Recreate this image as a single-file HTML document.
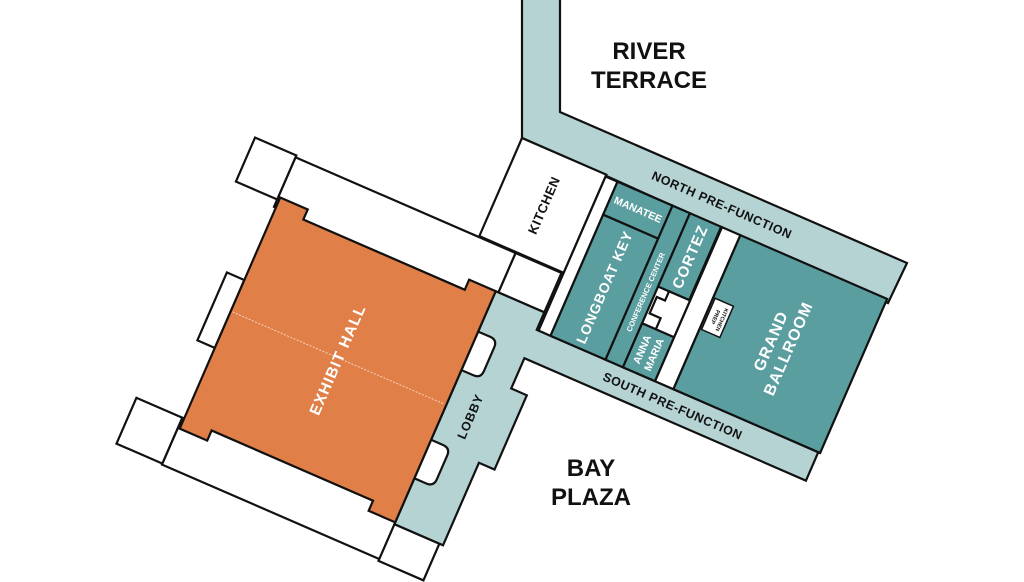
<!DOCTYPE html>
<html><head><meta charset="utf-8"><style>
html,body{margin:0;padding:0;background:#fff;width:1024px;height:582px;overflow:hidden;position:relative}
svg{display:block;position:absolute;left:0;top:0}
text{font-family:"Liberation Sans",sans-serif;font-weight:bold}
</style></head><body>
<svg width="1024" height="582" viewBox="0 0 1024 582" xmlns="http://www.w3.org/2000/svg">
<polygon points="522,-5 560,-5 560,112 907,263 888,303 522,138" fill="#b5d3d3" stroke="#111" stroke-width="2.2"/>
<g transform="translate(522,138) rotate(23.5)" stroke="#111" stroke-width="2.2" stroke-linejoin="miter">
  <rect x="0" y="0" width="92" height="107" fill="#fff"/>
  <rect x="-200" y="108" width="240" height="54" fill="#fff"/>
  <rect x="40" y="108" width="50" height="43" fill="#fff"/>
  <rect x="-245" y="106" width="45" height="48" fill="#fff"/>
  <rect x="-217" y="241" width="19" height="74" fill="#fff"/>
  <rect x="-200" y="392" width="238" height="51" fill="#fff"/>
  <rect x="-250" y="392" width="50" height="50" fill="#fff"/>
  <rect x="37" y="405" width="49" height="40" fill="#fff"/>
  <polygon points="37,151 90,151 90,170 397,170 397,201 90,201 90,234 107,234 107,315 90,315 90,405 37,405" fill="#b5d3d3"/>
  <path d="M37,195 H50 Q58,195 58,203 V229 Q58,237 50,237 H37 Z" fill="#fff"/>
  <path d="M37,313 H50 Q58,313 58,321 V347 Q58,355 50,355 H37 Z" fill="#fff"/>
  <rect x="92" y="2" width="13" height="168" fill="#fff"/>
  <rect x="105" y="2" width="60" height="36" fill="#5b9ea0"/>
  <rect x="105" y="38" width="60" height="132" fill="#5b9ea0"/>
  <rect x="165" y="2" width="19" height="168" fill="#5b9ea0"/>
  <rect x="184" y="2" width="34" height="80" fill="#5b9ea0"/>
  <rect x="184" y="122" width="35" height="48" fill="#5b9ea0"/>
  <polygon points="196,82 219,82 219,122 199,122 199,110 187,110 187,92 196,92" fill="#fff"/>
  <rect x="219" y="2" width="20" height="168" fill="#fff"/>
  <rect x="239" y="2" width="160" height="168" fill="#5b9ea0"/>
  <rect x="241" y="70" width="20" height="34" fill="#fff" stroke-width="1.5"/>
  <polygon points="-198,151 -168,151 -168,162 8,162 8,151 37,151 37,403 8,403 8,392 -168,392 -168,403 -198,403" fill="#e07f47"/>
  <line x1="-196" y1="275" x2="35" y2="275" stroke="#f6d4bd" stroke-width="1" stroke-dasharray="2,1.5"/>
</g>
<g transform="translate(522,138) rotate(23.5)" text-anchor="middle" dominant-baseline="central">
  <text x="210" y="-18" font-size="12.5" fill="#111" letter-spacing="0.5">NORTH PRE-FUNCTION</text>
  <text x="245" y="186" font-size="12.5" fill="#111" letter-spacing="0.5">SOUTH PRE-FUNCTION</text>
  <text transform="translate(47,53) rotate(-90)" font-size="13" fill="#111" letter-spacing="0.5">KITCHEN</text>
  <text x="135" y="20" font-size="10.5" fill="#fff">MANATEE</text>
  <text transform="translate(135,104) rotate(-90)" font-size="14" fill="#fff" letter-spacing="0.8">LONGBOAT KEY</text>
  <text transform="translate(175,92) rotate(-90)" font-size="7.5" fill="#fff">CONFERENCE CENTER</text>
  <text transform="translate(202,42) rotate(-90)" font-size="15" fill="#fff" letter-spacing="1">CORTEZ</text>
  <text transform="translate(195,146) rotate(-90)" font-size="10.5" fill="#fff">ANNA</text>
  <text transform="translate(208,146) rotate(-90)" font-size="10.5" fill="#fff">MARIA</text>
  <text transform="translate(248,87) rotate(90)" font-size="5.5" fill="#111">PREP</text>
  <text transform="translate(255,87) rotate(90)" font-size="5.5" fill="#111">KITCHEN</text>
  <text transform="translate(310,87) rotate(-90)" font-size="16" fill="#fff" letter-spacing="1">GRAND</text>
  <text transform="translate(329,87) rotate(-90)" font-size="16" fill="#fff" letter-spacing="1">BALLROOM</text>
  <text transform="translate(-80,277) rotate(-90)" font-size="15.5" fill="#fff" letter-spacing="1">EXHIBIT HALL</text>
  <text transform="translate(64,276) rotate(-90)" font-size="12.5" fill="#111" letter-spacing="0.8">LOBBY</text>
</g>
<text x="649" y="59" font-size="24" text-anchor="middle" fill="#111">RIVER</text>
<text x="649" y="88" font-size="24" text-anchor="middle" fill="#111">TERRACE</text>
<text x="591" y="476" font-size="24" text-anchor="middle" fill="#111">BAY</text>
<text x="591" y="505" font-size="24" text-anchor="middle" fill="#111">PLAZA</text>
</svg>
</body></html>
